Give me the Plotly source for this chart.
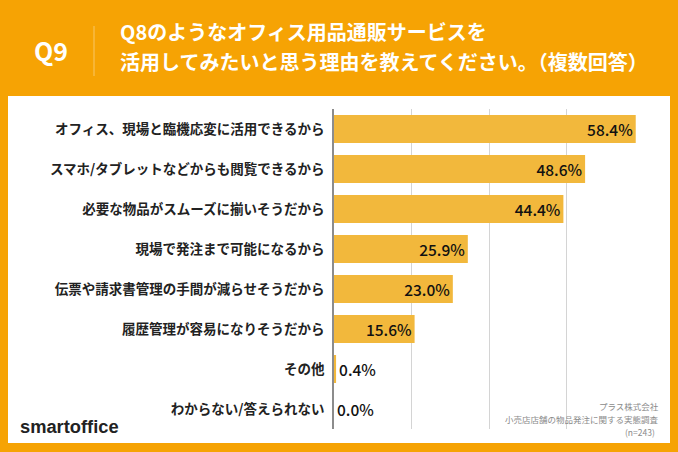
import plotly.graph_objects as go

categories = ["オフィス、現場と臨機応変に活用できるから", "スマホ/タブレットなどからも閲覧できるから",
              "必要な物品がスムーズに揃いそうだから", "現場で発注まで可能になるから",
              "伝票や請求書管理の手間が減らせそうだから", "履歴管理が容易になりそうだから",
              "その他", "わからない/答えられない"]
values = [58.4, 48.6, 44.4, 25.9, 23.0, 15.6, 0.4, 0.0]
labels = ["58.4%", "48.6%", "44.4%", "25.9%", "23.0%", "15.6%", "0.4%", "0.0%"]
label_positions = ["inside"] * 6 + ["outside"] * 2
x_ticks = [0, 15, 30, 45, 60]

FONT = "Noto Sans CJK JP"
ORANGE = "#f6a304"
W, H = 678, 452
PL, PT, PW, PH = 334, 109, 310, 320

def fx(p):
    return (p - PL) / PW

def fy(p):
    return (PT + PH - p) / PH

def note(text, x, y, size, color, anchor="left", weight=400, family=FONT):
    return dict(text=text, xref="paper", yref="paper", x=fx(x), y=fy(y), xanchor=anchor, yanchor="middle",
                showarrow=False, font=dict(family=family, size=size, color=color, weight=weight))

fig = go.Figure(go.Bar(
    y=categories, x=values, orientation="h", width=0.7,
    marker=dict(color="#f2b83c", line=dict(width=0)),
    text=labels, textposition=label_positions, insidetextanchor="end",
    constraintext="none", cliponaxis=False,
    textfont=dict(family=FONT, size=15.5, color="#111111", weight=500),
))

fig.update_layout(
    width=W, height=H, paper_bgcolor=ORANGE, plot_bgcolor="rgba(0,0,0,0)",
    margin=dict(l=PL, r=W - PL - PW, t=PT, b=H - PT - PH, pad=0, autoexpand=False),
    showlegend=False, bargap=0.3, font=dict(family=FONT),
    xaxis=dict(range=[0, 60], tickvals=x_ticks, showticklabels=False, ticks="",
               showgrid=True, gridcolor="#d4d4d4", gridwidth=1, zeroline=False),
    yaxis=dict(autorange="reversed", ticks="", ticklen=0, ticklabelstandoff=5,
               showline=True, linecolor="#8c8c8c", linewidth=1.5, zeroline=False,
               tickfont=dict(family=FONT, size=13.5, color="#222222", weight=700)),
    shapes=[
        dict(type="rect", xref="paper", yref="paper", layer="below",
             x0=fx(8), x1=fx(670), y0=fy(443), y1=fy(96),
             fillcolor="white", line=dict(width=0)),
        dict(type="line", xref="paper", yref="paper", layer="above",
             x0=fx(94), x1=fx(94), y0=fy(76), y1=fy(26),
             line=dict(color="#f9c766", width=1)),
    ],
    annotations=[
        note("Q9", 51, 50, 25, "white", "center", 700),
        note("Q8のようなオフィス用品通販サービスを", 118, 32, 20, "white", "left", 700),
        note("活用してみたいと思う理由を教えてください。（複数回答）", 118, 62, 20, "white", "left", 700),
        note("smartoffice", 18, 426, 18.3, "#222222", "left", 700, "Liberation Sans"),
        note("プラス株式会社", 661, 406, 8.5, "#8a8a8a", "right"),
        note("小売店店舗の物品発注に関する実態調査", 661, 419, 8.5, "#8a8a8a", "right"),
        note("(n=243)", 657, 432, 8.5, "#8a8a8a", "right"),
    ],
)
fig.write_html("out.html", config=dict(displayModeBar=False),
               post_script="document.body.style.margin='0';document.body.style.overflow='hidden';")
